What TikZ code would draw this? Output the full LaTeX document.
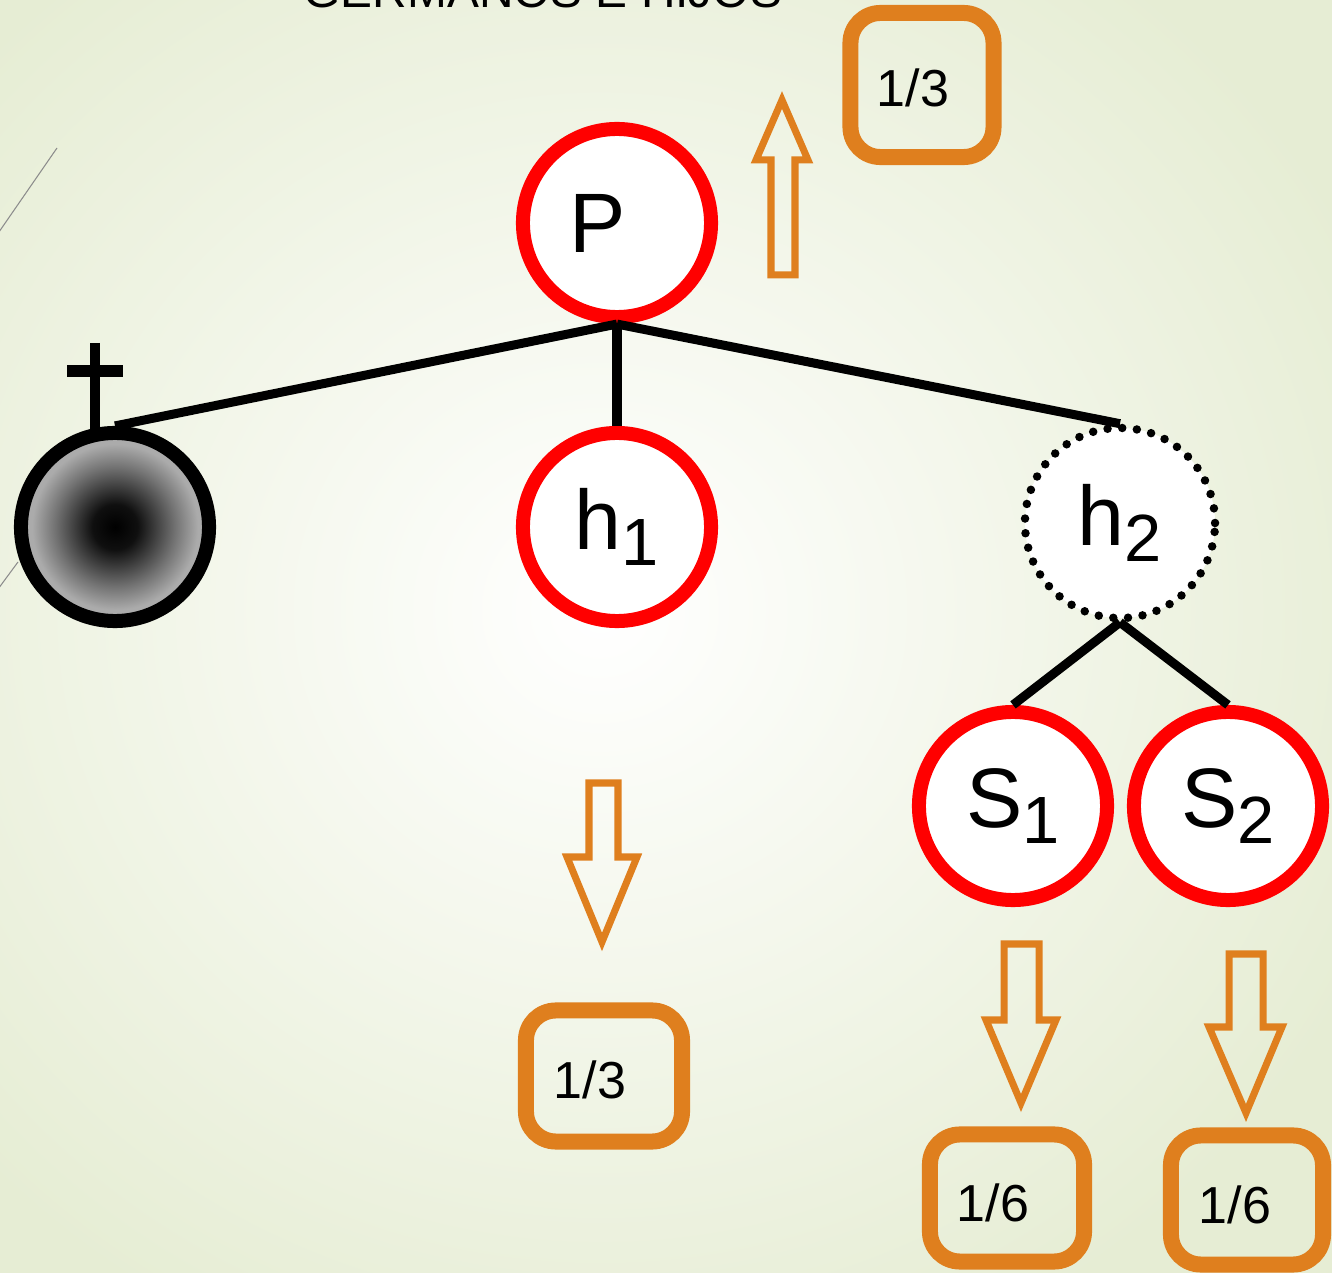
\documentclass[tikz,border=0pt]{standalone}
\usepackage{fontspec}
\setmainfont{Liberation Sans}
\usetikzlibrary{shapes.geometric}
\definecolor{bgouter}{RGB}{230,237,212}
\definecolor{orng}{RGB}{223,127,30}
\definecolor{redc}{RGB}{255,0,0}
\pgfdeclareradialshading{deadshade}{\pgfpoint{0bp}{0bp}}{rgb(0bp)=(0,0,0); rgb(6bp)=(0.06,0.06,0.06); rgb(16bp)=(0.45,0.45,0.45); rgb(22bp)=(0.67,0.67,0.67); rgb(50bp)=(0.67,0.67,0.67)}
\newcommand{\sbx}[1]{{\fontsize{19}{19}\selectfont\raisebox{-4.5pt}{#1}}}
\tikzset{
  person/.style={circle, draw=redc, line width=0.14cm, fill=white, minimum size=1.88cm, inner sep=0pt, font=\fontsize{24}{24}\selectfont},
  dead/.style={circle, draw=black, line width=0.14cm, minimum size=1.88cm, inner sep=0pt, shading=deadshade},
  ghost/.style={circle, draw=black, line width=0.085cm, dash pattern=on 0pt off 0.147cm, line cap=round, fill=white, minimum size=1.9cm, inner sep=0pt, font=\fontsize{24}{24}\selectfont},
  link/.style={line width=0.09cm, black},
  fracbox/.style={rectangle, rounded corners=0.3cm, draw=orng, line width=0.16cm, inner sep=0pt},
  fractext/.style={font=\fontsize{14.8}{15}\selectfont, inner sep=0pt},
  hollowarrow/.style={draw=orng, line width=0.07cm, line join=miter},
}
\begin{document}
\begin{tikzpicture}[x=0.01cm, y=-0.01cm]
\useasboundingbox (0,0) rectangle (1332,1273);
\clip (0,0) rectangle (1332,1273);
% background
\shade[inner color=white, outer color=bgouter] (-250,-200) rectangle (1450,1420);
\draw[black!45, line width=0.3pt] (57,148) -- (-10,245);
\draw[black!45, line width=0.3pt] (18,562) -- (-10,600);
% title (cut off at the top, as in the reference)
\node[anchor=base west, inner sep=0pt, font=\fontsize{13.6}{14}\selectfont] (title) at (303,8) {GERMANOS E HIJOS};
% people
\node[person] (P) at (617,223) {P\kern11pt};
\node[dead] (D) at (115,527) {};
\node[person] (h1) at (617,527) {h\sbx{1}};
\node[ghost] (h2) at (1120,523) {h\sbx{2}};
\node[person] (S1) at (1013,806) {S\sbx{1}};
\node[person] (S2) at (1228,806) {S\sbx{2}};
% cross
\draw[line width=0.1cm] (95,343) -- (95,432);
\draw[line width=0.12cm] (67,371) -- (123,371);
% links
\draw[link] (P.south) -- (D.north);
\draw[link] (P.south) -- (h1.north);
\draw[link] (P.south) -- (h2.north);
\draw[link] (h2.south) -- (S1.north);
\draw[link] (h2.south) -- (S2.north);
% arrows
\draw[hollowarrow] (782,100) -- (808,160) -- (795,160) -- (795,275) -- (771,275) -- (771,160) -- (756,160) -- cycle;
\draw[hollowarrow] (589,783) -- (618,783) -- (618,857) -- (637,857) -- (602,942) -- (567,857) -- (589,857) -- cycle;
\draw[hollowarrow] (1004,944) -- (1039,944) -- (1039,1020) -- (1056,1020) -- (1021,1103) -- (986,1020) -- (1004,1020) -- cycle;
\draw[hollowarrow] (1229,954) -- (1263,954) -- (1263,1027) -- (1282,1027) -- (1246,1113) -- (1209,1027) -- (1229,1027) -- cycle;
% fraction boxes
\node[fracbox, minimum width=1.43cm, minimum height=1.44cm] (bP) at (922,85) {};
\node[fractext] (tP) at (913,88) {1/3};
\node[fracbox, minimum width=1.56cm, minimum height=1.31cm] (bh1) at (604,1076) {};
\node[fractext] (th1) at (590,1080) {1/3};
\node[fracbox, minimum width=1.54cm, minimum height=1.27cm] (bS1) at (1007,1198) {};
\node[fractext] (tS1) at (993,1203) {1/6};
\node[fracbox, minimum width=1.52cm, minimum height=1.29cm] (bS2) at (1247,1200) {};
\node[fractext] (tS2) at (1235,1205) {1/6};
\end{tikzpicture}
\end{document}
